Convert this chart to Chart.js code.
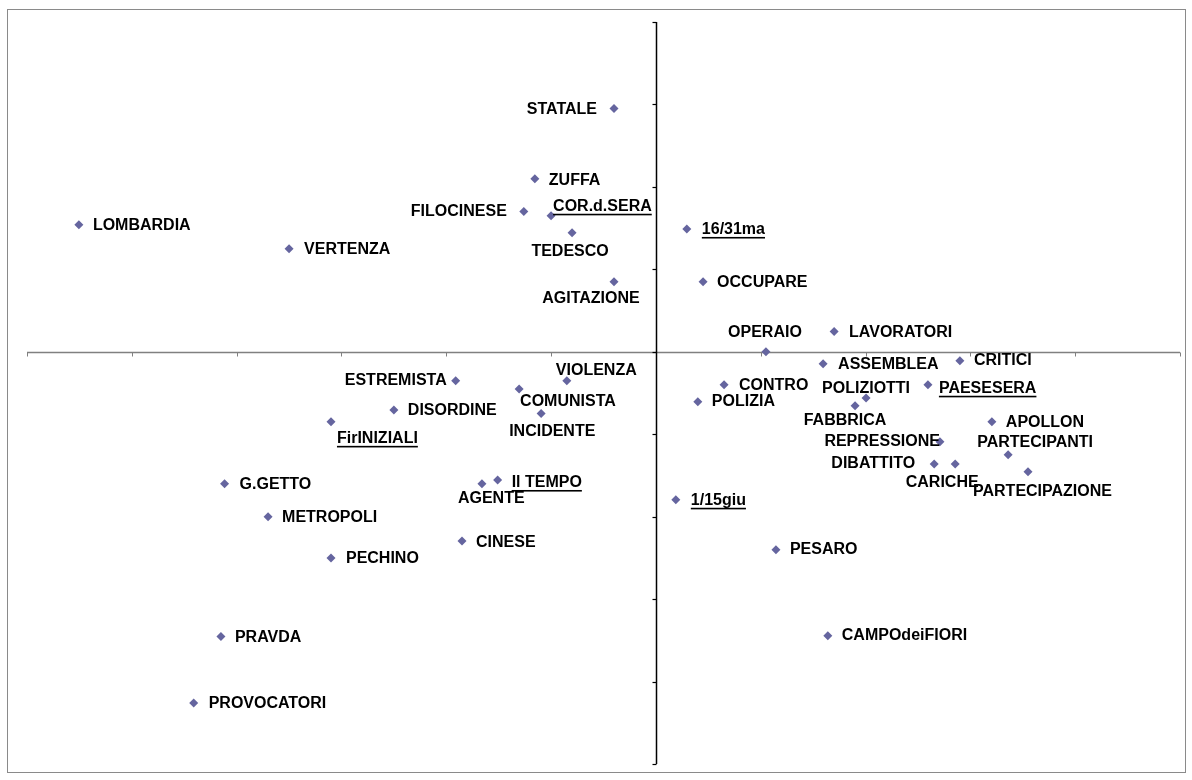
<!DOCTYPE html>
<html><head><meta charset="utf-8">
<script src="https://cdn.jsdelivr.net/npm/chart.js@4/dist/chart.umd.min.js"></script>
<style>html,body{margin:0;padding:0;background:#fff}#wrap{width:1192px;height:780px;position:relative}</style>
</head><body><div id="wrap"><canvas id="c" width="1192" height="780"></canvas></div>
<script>
const words = ['STATALE','ZUFFA','FILOCINESE','COR.d.SERA','TEDESCO','AGITAZIONE','LOMBARDIA','VERTENZA','16/31ma','OCCUPARE','OPERAIO','LAVORATORI','ASSEMBLEA','CRITICI','CONTRO','POLIZIA','POLIZIOTTI','FABBRICA','PAESESERA','APOLLON','REPRESSIONE','PARTECIPANTI','DIBATTITO','CARICHE','PARTECIPAZIONE','1/15giu','PESARO','CAMPOdeiFIORI','ESTREMISTA','VIOLENZA','COMUNISTA','INCIDENTE','DISORDINE','FirINIZIALI','G.GETTO','AGENTE','Il TEMPO','METROPOLI','CINESE','PECHINO','PRAVDA','PROVOCATORI'];
const xValues = [-0.080,-0.231,-0.252,-0.200,-0.160,-0.080,-1.101,-0.700,0.059,0.090,0.210,0.340,0.319,0.580,0.130,0.080,0.401,0.380,0.519,0.641,0.542,0.672,0.531,0.571,0.710,0.038,0.229,0.328,-0.382,-0.170,-0.261,-0.219,-0.500,-0.620,-0.823,-0.332,-0.302,-0.740,-0.370,-0.620,-0.830,-0.882];
const yValues = [0.590,0.420,0.340,0.330,0.289,0.170,0.308,0.250,0.298,0.170,0.000,0.049,-0.029,-0.022,-0.080,-0.121,-0.112,-0.131,-0.080,-0.170,-0.218,-0.250,-0.272,-0.272,-0.291,-0.359,-0.480,-0.689,-0.070,-0.070,-0.090,-0.150,-0.141,-0.170,-0.320,-0.320,-0.311,-0.400,-0.459,-0.500,-0.691,-0.852];
const underlinedWords = ['COR.d.SERA','16/31ma','PAESESERA','FirINIZIALI','Il TEMPO','1/15giu'];
const xTicks = [-1.2,-1.0,-0.8,-0.6,-0.4,-0.2,0,0.2,0.4,0.6,0.8,1.0];
const yTicks = [-1.0,-0.8,-0.6,-0.4,-0.2,0,0.2,0.4,0.6,0.8];

// label placement relative to each marker: [align, dx, dy]
const labelPlacement = [
 ['r',-17,1],['l',14,2],['r',-17,0],['l',2,-9],['c',-2,19],['c',-23,17],['l',14,1],['l',15,1],['l',15,1],['l',14,1],
 ['c',-1,-19],['l',15,1],['l',15,1],['l',14,0],['l',15,1],['l',14,0],['c',0,-9],['c',-10,15],['l',11,4],['l',14,1],
 ['r',0,0],['c',27,-12],['r',-19,0],['c',-13,19],['l',-55,20],['l',15,1],['l',14,0],['l',14,0],['r',-9,0],['l',-11,-10],
 ['l',1,13],['l',-32,18],['l',14,1],['l',6,17],['l',15,1],['l',-24,15],['l',14,3],['l',14,1],['l',14,2],['l',15,1],
 ['l',14,1],['l',15,1]
];

const points = xValues.map((x,i)=>({x:x,y:yValues[i]}));

const axesPlugin = {
  id:'axesPlugin',
  beforeDatasetsDraw(chart){
    const ctx = chart.ctx, xs = chart.scales.x, ys = chart.scales.y;
    ctx.save();
    ctx.strokeStyle = '#8a8a8a'; ctx.lineWidth = 1;
    ctx.strokeRect(7.5, 9.5, 1178, 763);
    const y0 = Math.round(ys.getPixelForValue(0)) + 0.5;
    const x0 = Math.round(xs.getPixelForValue(0)) + 0.5;
    // horizontal axis
    ctx.strokeStyle = '#808080'; ctx.lineWidth = 1.3;
    ctx.beginPath();
    ctx.moveTo(xs.getPixelForValue(xTicks[0]), y0);
    ctx.lineTo(xs.getPixelForValue(xTicks[xTicks.length-1]), y0);
    ctx.stroke();
    ctx.lineWidth = 1;
    xTicks.forEach(t=>{
      const px = Math.round(xs.getPixelForValue(t)) + 0.5;
      ctx.beginPath(); ctx.moveTo(px, y0); ctx.lineTo(px, y0 + 4); ctx.stroke();
    });
    // vertical axis
    ctx.strokeStyle = '#000'; ctx.lineWidth = 1.5;
    ctx.beginPath();
    ctx.moveTo(x0, ys.getPixelForValue(yTicks[yTicks.length-1]));
    ctx.lineTo(x0, ys.getPixelForValue(yTicks[0]));
    ctx.stroke();
    ctx.lineWidth = 1.2;
    yTicks.forEach(t=>{
      const py = Math.round(ys.getPixelForValue(t)) + 0.5;
      ctx.beginPath(); ctx.moveTo(x0 - 4, py); ctx.lineTo(x0, py); ctx.stroke();
    });
    ctx.restore();
  },
  afterDatasetsDraw(chart){
    const ctx = chart.ctx;
    const meta = chart.getDatasetMeta(0);
    ctx.save();
    ctx.font = 'bold 16px "Liberation Sans", Arial, sans-serif';
    ctx.fillStyle = '#000';
    ctx.textBaseline = 'middle';
    meta.data.forEach((el,i)=>{
      const [al,dx,dy] = labelPlacement[i];
      const txt = words[i];
      const w = ctx.measureText(txt).width;
      let left;
      if (al==='l') left = el.x + dx;
      else if (al==='r') left = el.x + dx - w;
      else left = el.x + dx - w/2;
      const ty = el.y + dy;
      ctx.textAlign = 'left';
      ctx.fillText(txt, left, ty);
      if (underlinedWords.includes(txt)) {
        ctx.fillRect(left, ty + 7, w, 1.6);
      }
    });
    ctx.restore();
  }
};

new Chart(document.getElementById('c'), {
  type:'scatter',
  data:{datasets:[{
    label:'words',
    data:points,
    pointStyle:'rectRot',
    pointRadius:4.5,
    pointHoverRadius:4.5,
    backgroundColor:'#65659f',
    borderColor:'#65659f',
    borderWidth:0
  }]},
  options:{
    responsive:false,
    animation:false,
    layout:{padding:{left:27,right:12,top:22,bottom:16}},
    plugins:{legend:{display:false},tooltip:{enabled:false}},
    scales:{
      x:{type:'linear',min:-1.2,max:1.0,display:false},
      y:{type:'linear',min:-1.0,max:0.8,display:false}
    }
  },
  plugins:[axesPlugin]
});
</script>
</body></html>
